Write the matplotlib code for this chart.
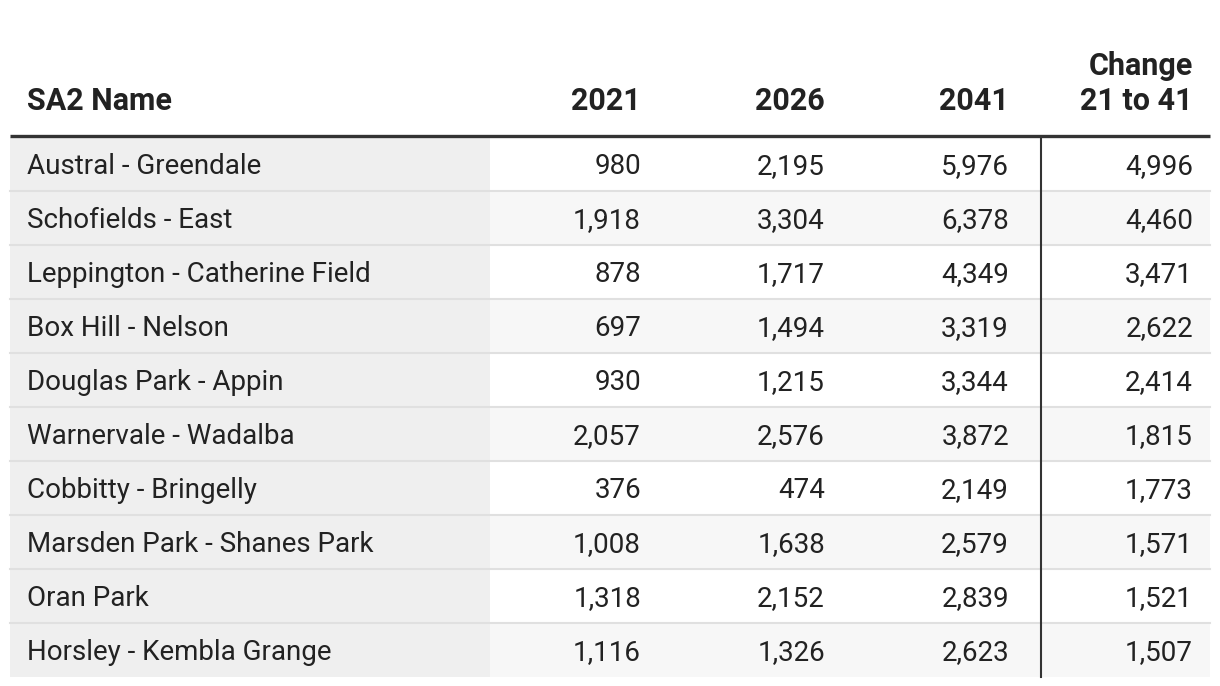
import matplotlib.pyplot as plt
from matplotlib.patches import Rectangle

# table data
names = ["Austral - Greendale", "Schofields - East", "Leppington - Catherine Field",
         "Box Hill - Nelson", "Douglas Park - Appin", "Warnervale - Wadalba",
         "Cobbitty - Bringelly", "Marsden Park - Shanes Park", "Oran Park",
         "Horsley - Kembla Grange"]
pop_2021 = [980, 1918, 878, 697, 930, 2057, 376, 1008, 1318, 1116]
pop_2026 = [2195, 3304, 1717, 1494, 1215, 2576, 474, 1638, 2152, 1326]
pop_2041 = [5976, 6378, 4349, 3319, 3344, 3872, 2149, 2579, 2839, 2623]
change = [4996, 4460, 3471, 2622, 2414, 1815, 1773, 1571, 1521, 1507]
headers = ["SA2 Name", "2021", "2026", "2041", "Change\n21 to 41"]

plt.rcParams['font.family'] = ['Roboto', 'DejaVu Sans']

fig = plt.figure(figsize=(12.2, 6.86), dpi=100)
ax = fig.add_axes([0, 0, 1, 1])
ax.set_xlim(0, 1220)
ax.set_ylim(686, 0)
ax.axis('off')

left, right = 10, 1210
name_col_right = 490
top = 137
row_h = 54
num_right = [641, 825, 1009, 1193]
txt = '#222222'

# headers
ax.text(27, 110, headers[0], ha='left', va='baseline', fontsize=22,
        fontweight='bold', color=txt)
for xr, h in zip(num_right, headers[1:]):
    ax.text(xr, 110, h, ha='right', va='baseline', fontsize=22,
            fontweight='bold', color=txt, linespacing=1.22, multialignment='right')

cols = [pop_2021, pop_2026, pop_2041, change]
for i, nm in enumerate(names):
    y0 = top + i * row_h
    ax.add_patch(Rectangle((left, y0), name_col_right - left, row_h,
                           facecolor='#efefef', edgecolor='none'))
    if i % 2 == 1:
        ax.add_patch(Rectangle((name_col_right, y0), right - name_col_right, row_h,
                               facecolor='#f7f7f7', edgecolor='none'))
    if i > 0:
        ax.plot([left, right], [y0, y0], color='#e0e0e0', lw=1.5)
    yb = y0 + 37
    ax.text(27, yb, nm, ha='left', va='baseline', fontsize=20, color=txt)
    for xr, c in zip(num_right, cols):
        ax.text(xr, yb, f"{c[i]:,}", ha='right', va='baseline', fontsize=20, color=txt)

bottom = top + len(names) * row_h
ax.plot([left, right], [135.5, 135.5], color='#333333', lw=2.4, solid_capstyle='butt')
ax.plot([1041, 1041], [137, bottom], color='#333333', lw=1.5)

fig.savefig('out.png', dpi=100)
